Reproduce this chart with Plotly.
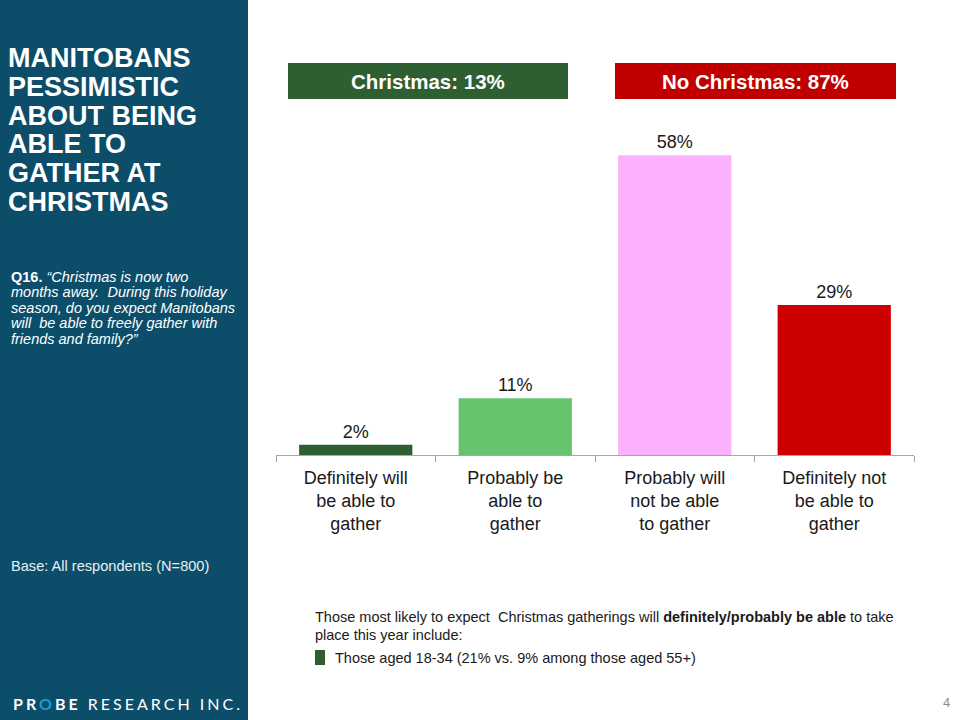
import plotly.graph_objects as go

# ---------------- data ----------------
categories = [
    "Definitely will<br>be able to<br>gather",
    "Probably be<br>able to<br>gather",
    "Probably will<br>not be able<br>to gather",
    "Definitely not<br>be able to<br>gather",
]
values = [2, 11, 58, 29]
bar_colors = ["#2E5F33", "#66C46F", "#FBB1FB", "#CC0000"]

christmas_total = 13
no_christmas_total = 87

title_lines = ["MANITOBANS", "PESSIMISTIC", "ABOUT BEING", "ABLE TO", "GATHER AT", "CHRISTMAS"]
question_lines = [
    "<b>Q16.</b> <i>\u201cChristmas is now two</i>",
    "<i>months away.  During this holiday</i>",
    "<i>season, do you expect Manitobans</i>",
    "<i>will  be able to freely gather with</i>",
    "<i>friends and family?\u201d</i>",
]
base_text = "Base: All respondents (N=800)"
note_lines = [
    "Those most likely to expect  Christmas gatherings will <b>definitely/probably be able</b> to take",
    "place this year include:",
]
bullet_text = "Those aged 18-34 (21% vs. 9% among those aged 55+)"
page_number = "4"

# ---------------- figure ----------------
W, H = 960, 720
FONT = "Liberation Sans, Arial, sans-serif"
SIDEBAR = "#0C4E6A"


def px(x):
    return x / W


def py(y):
    return 1 - y / H


fig = go.Figure()
fig.add_trace(go.Bar(
    x=categories,
    y=values,
    marker=dict(color=bar_colors, line=dict(width=0)),
    text=[f"{v}%" for v in values],
    textposition="outside",
    textfont=dict(family=FONT, size=18, color="#1A1A1A"),
    cliponaxis=False,
    hoverinfo="skip",
))

shapes = [
    dict(type="rect", xref="paper", yref="paper", x0=0, x1=px(248), y0=0, y1=1,
         fillcolor=SIDEBAR, line=dict(width=0), layer="below"),
    dict(type="rect", xref="paper", yref="paper", x0=px(288), x1=px(568), y0=py(99), y1=py(63),
         fillcolor="#2E5F33", line=dict(width=0)),
    dict(type="rect", xref="paper", yref="paper", x0=px(615), x1=px(896), y0=py(99), y1=py(63),
         fillcolor="#C00000", line=dict(width=0)),
    dict(type="rect", xref="paper", yref="paper", x0=px(315), x1=px(325), y0=py(665), y1=py(650),
         fillcolor="#2E5F33", line=dict(width=0)),
]

annotations = []


def add_text(text, x, y, size, color, xanchor="left", family=FONT):
    annotations.append(dict(
        text=text, x=px(x), y=py(y), xref="paper", yref="paper",
        xanchor=xanchor, yanchor="middle", showarrow=False,
        font=dict(family=family, size=size, color=color), align="left",
    ))


# header boxes
add_text(f"<b>Christmas: {christmas_total}%</b>", 428, 81, 20.5, "white", xanchor="center")
add_text(f"<b>No Christmas: {no_christmas_total}%</b>", 755.5, 81, 20.5, "white", xanchor="center")

# sidebar title
for i, line in enumerate(title_lines):
    add_text(f"<b>{line}</b>", 6, 58 + i * 28.8, 27, "white")

# question
for i, line in enumerate(question_lines):
    add_text(line, 9, 277 + i * 15.4, 14.5, "white")

add_text(base_text, 9, 566, 14.6, "#E8F0F4")

# logo
add_text(
    "<span style='letter-spacing:3px'><b>PR<span style='color:#1E9BD7'>O</span>BE</b> RESEARCH INC.</span>",
    11, 703, 16, "white", family="Lato, sans-serif")

# bottom notes
for i, line in enumerate(note_lines):
    add_text(line, 313, 617 + i * 18, 14.5, "#1A1A1A")
add_text(bullet_text, 333, 658, 14.5, "#1A1A1A")

add_text(page_number, 946, 702, 13, "#8C8C8C", xanchor="center")

fig.update_layout(
    width=W, height=H,
    margin=dict(l=0, r=0, t=0, b=0),
    paper_bgcolor="white",
    plot_bgcolor="white",
    showlegend=False,
    bargap=0.29,
    shapes=shapes,
    annotations=annotations,
    xaxis=dict(
        domain=[px(276), px(914)],
        type="category",
        showline=True, linecolor="#A6A6A6", linewidth=1,
        ticks="outside", tickson="boundaries", ticklen=6, tickcolor="#A6A6A6",
        ticklabelstandoff=6,
        tickfont=dict(family=FONT, size=18, color="#1A1A1A"),
        showgrid=False, zeroline=False,
    ),
    yaxis=dict(
        domain=[py(455), py(100)],
        range=[0, 355 / 5.17],
        visible=False,
        showgrid=False, zeroline=False,
    ),
)

fig.write_html(
    "out.html",
    config={"displayModeBar": False},
    post_script="document.body.style.margin='0';document.body.style.overflow='hidden';",
)
